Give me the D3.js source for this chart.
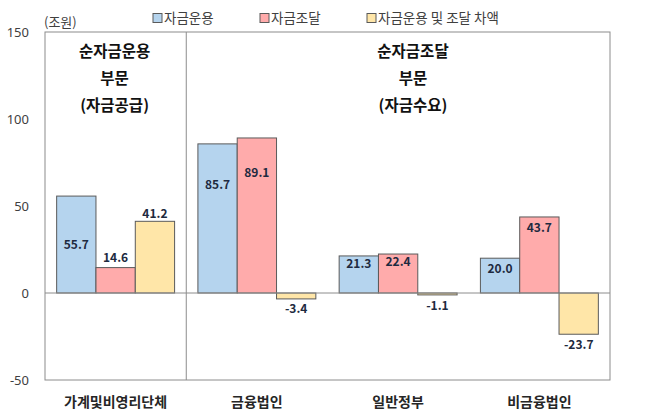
<!DOCTYPE html>
<html><head><meta charset="utf-8">
<script src="https://cdn.jsdelivr.net/npm/d3@7"></script>
<style>
html,body{margin:0;padding:0;background:#fff;}
svg{display:block;font-family:"Noto Sans CJK KR","Noto Sans",sans-serif;}
</style></head>
<body>
<script>
const categories = ["가계및비영리단체", "금융법인", "일반정부", "비금융법인"];
const seriesNames = ["자금운용", "자금조달", "자금운용 및 조달 차액"];
const useOfFunds = [55.7, 85.7, 21.3, 20.0];
const sourceOfFunds = [14.6, 89.1, 22.4, 43.7];
const netDifference = [41.2, -3.4, -1.1, -23.7];
// value at which each data label sits
const labelAtUse = [27.6, 62, 16.5, 13.8];
const labelAtSource = [20.5, 69, 17.8, 37.5];
const labelAtNet = [45.8, -8.8, -7.5, -29.9];
const yTicks = [150, 100, 50, 0, -50];
const unitLabel = "(조원)";
const leftHeader = ["순자금운용", "부문", "(자금공급)"];
const rightHeader = ["순자금조달", "부문", "(자금수요)"];
const colors = ["#b5d4ee", "#ffabab", "#ffe6a8"];

const W = 647, H = 414;
const margin = {left: 45, right: 37, top: 32, bottom: 34};
const svg = d3.select("body").append("svg").attr("width", W).attr("height", H);
const hyphen = s => s.replace("\u2212", "-");

const y = d3.scaleLinear().domain([-50, 150]).range([H - margin.bottom, margin.top]);
const x0 = d3.scaleBand().domain(categories).range([margin.left, W - margin.right])
  .paddingInner(0.165).paddingOuter(0.0825);
const x1 = d3.scaleBand().domain(d3.range(3)).range([0, x0.bandwidth()]);

const values = [useOfFunds, sourceOfFunds, netDifference];
const labelAt = [labelAtUse, labelAtSource, labelAtNet];

const axisColor = "#8c8c8c";
svg.append("rect").attr("x", margin.left).attr("y", y(150))
  .attr("width", W - margin.right - margin.left).attr("height", y(-50) - y(150))
  .attr("fill", "none").attr("stroke", axisColor).attr("stroke-width", 1);

const divX = (x0(categories[0]) + x0.bandwidth() + x0(categories[1])) / 2;
svg.append("line").attr("x1", divX).attr("x2", divX).attr("y1", y(150)).attr("y2", y(-50))
  .attr("stroke", axisColor).attr("stroke-width", 1);

const yAxis = d3.axisLeft(y).tickValues(yTicks).tickSize(0).tickPadding(16)
  .tickFormat(d => hyphen(d3.format("d")(d)));
const yg = svg.append("g").attr("transform", `translate(${margin.left},0)`).call(yAxis);
yg.select(".domain").remove();
yg.selectAll("text").attr("font-size", 13).attr("fill", "#404040")
  .attr("font-family", "'Noto Sans','Noto Sans CJK KR',sans-serif");

const rows = categories.map((c, i) => values.map((v, s) => ({c, s, v: v[i], la: labelAt[s][i]})));
const groups = svg.append("g").selectAll("g").data(rows).join("g")
  .attr("transform", (d, i) => `translate(${x0(categories[i])},0)`);
groups.selectAll("rect").data(d => d).join("rect")
  .attr("x", d => x1(d.s)).attr("width", x1.bandwidth())
  .attr("y", d => y(Math.max(0, d.v))).attr("height", d => Math.abs(y(d.v) - y(0)))
  .attr("fill", d => colors[d.s]).attr("stroke", "#5a5a5a").attr("stroke-width", 1);

svg.append("line").attr("x1", margin.left).attr("x2", W - margin.right)
  .attr("y1", y(0)).attr("y2", y(0)).attr("stroke", axisColor).attr("stroke-width", 1);

groups.selectAll("text").data(d => d).join("text")
  .attr("x", d => x1(d.s) + x1.bandwidth() / 2).attr("y", d => y(d.la))
  .attr("dy", "0.35em").attr("text-anchor", "middle")
  .attr("font-size", 12).attr("font-weight", "bold").attr("fill", "#1e2a40")
  .text(d => hyphen(d3.format(".1f")(d.v)));

svg.append("g").selectAll("text").data(categories).join("text")
  .attr("x", d => x0(d) + x0.bandwidth() / 2).attr("y", 402).attr("dy", "0.35em")
  .attr("text-anchor", "middle").attr("font-size", 14).attr("font-weight", "bold")
  .attr("fill", "#262626").text(d => d);

const headerYs = [52, 79, 106];
function header(lines, cx) {
  svg.append("g").selectAll("text").data(lines).join("text")
    .attr("x", cx).attr("y", (d, i) => headerYs[i]).attr("dy", "0.35em")
    .attr("text-anchor", "middle").attr("font-size", 15.5).attr("font-weight", "bold")
    .attr("fill", "#111").text(d => d);
}
header(leftHeader, (margin.left + divX) / 2 - 1);
header(rightHeader, 413);

svg.append("text").attr("x", 44).attr("y", 22).attr("dy", "0.35em")
  .attr("font-size", 13).attr("fill", "#404040").text(unitLabel);

const legendX = [153, 260, 367];
const lg = svg.append("g").selectAll("g").data(seriesNames).join("g")
  .attr("transform", (d, i) => `translate(${legendX[i]},18)`);
lg.append("rect").attr("x", 0).attr("y", -4.5).attr("width", 9).attr("height", 9)
  .attr("fill", (d, i) => colors[i]).attr("stroke", "#5a5a5a").attr("stroke-width", 1);
lg.append("text").attr("x", 11).attr("dy", "0.35em").attr("font-size", 13.5)
  .attr("fill", "#404040").text(d => d);
</script>
</body></html>
